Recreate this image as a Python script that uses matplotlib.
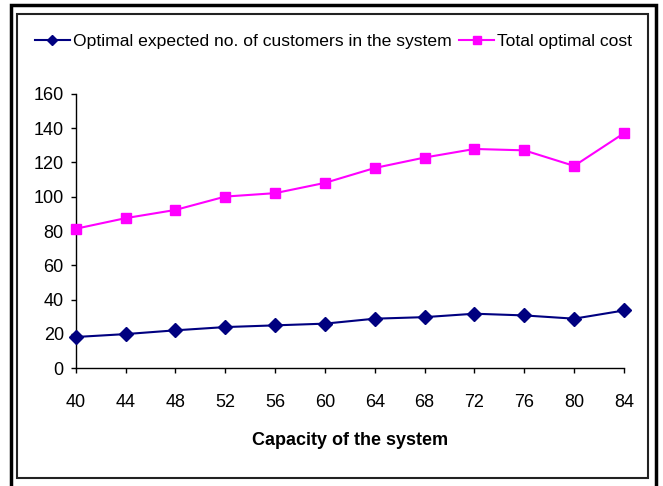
import matplotlib
matplotlib.use("Agg")
import matplotlib.pyplot as plt
from matplotlib import font_manager
from matplotlib.patches import Rectangle

capacity = [40, 44, 48, 52, 56, 60, 64, 68, 72, 76, 80, 84]
customers = [18.1, 19.8, 22.0, 23.9, 24.9, 25.9, 28.8, 29.7, 31.7, 30.7, 28.8, 33.6]
total_cost = [81.3, 87.5, 92.3, 100.1, 102.1, 108.1, 116.8, 122.9, 127.9, 127.1, 118.0, 137.1]
yticks = [0, 20, 40, 60, 80, 100, 120, 140, 160]

names = {f.name for f in font_manager.fontManager.ttflist}
fam = "Liberation Sans Narrow" if "Liberation Sans Narrow" in names else "Liberation Sans"
plt.rcParams["font.family"] = [fam, "DejaVu Sans"]

W, H = 663, 486
fig = plt.figure(figsize=(W / 100, H / 100), dpi=100)

def fx(px):
    return px / W

def fy(py):
    return 1 - py / H

ax = fig.add_axes([fx(75.7), fy(368), fx(624) - fx(75.7), fy(94) - fy(368)])
ax.plot(capacity, customers, color="#000080", marker="D", markersize=7, lw=1.5,
        label="Optimal expected no. of customers in the system", clip_on=False, zorder=3)
ax.plot(capacity, total_cost, color="#FF00FF", marker="s", markersize=7, lw=1.5,
        label="Total optimal cost", clip_on=False, zorder=3)
ax.set_xlim(40, 84)
ax.set_ylim(0, 160)
ax.set_xticks(capacity)
ax.set_yticks(yticks)
ax.spines["top"].set_visible(False)
ax.spines["right"].set_visible(False)
for s in ("left", "bottom"):
    ax.spines[s].set_linewidth(1.0)
ax.tick_params(axis="both", direction="out", length=3.6, width=1.0, labelsize=13)
ax.tick_params(axis="x", pad=15)
ax.tick_params(axis="y", pad=5)
ax.set_xlabel("Capacity of the system", fontsize=13, fontweight="bold", labelpad=15)

fig.legend(loc="center", bbox_to_anchor=(fx(333.5), fy(41.5)), ncol=2, frameon=False,
           fontsize=12.6, handlelength=2.0, handletextpad=0.17, columnspacing=0.45,
           markerscale=0.75)

# frames
fig.patches.append(Rectangle((fx(11), fy(490)), fx(656) - fx(11), fy(5) - fy(490),
                             transform=fig.transFigure, fill=False, ec="black", lw=2.5))
fig.patches.append(Rectangle((fx(17), fy(478)), fx(648) - fx(17), fy(14) - fy(478),
                             transform=fig.transFigure, fill=False, ec="#222222", lw=1.5))

fig.savefig("out.png", dpi=100)
